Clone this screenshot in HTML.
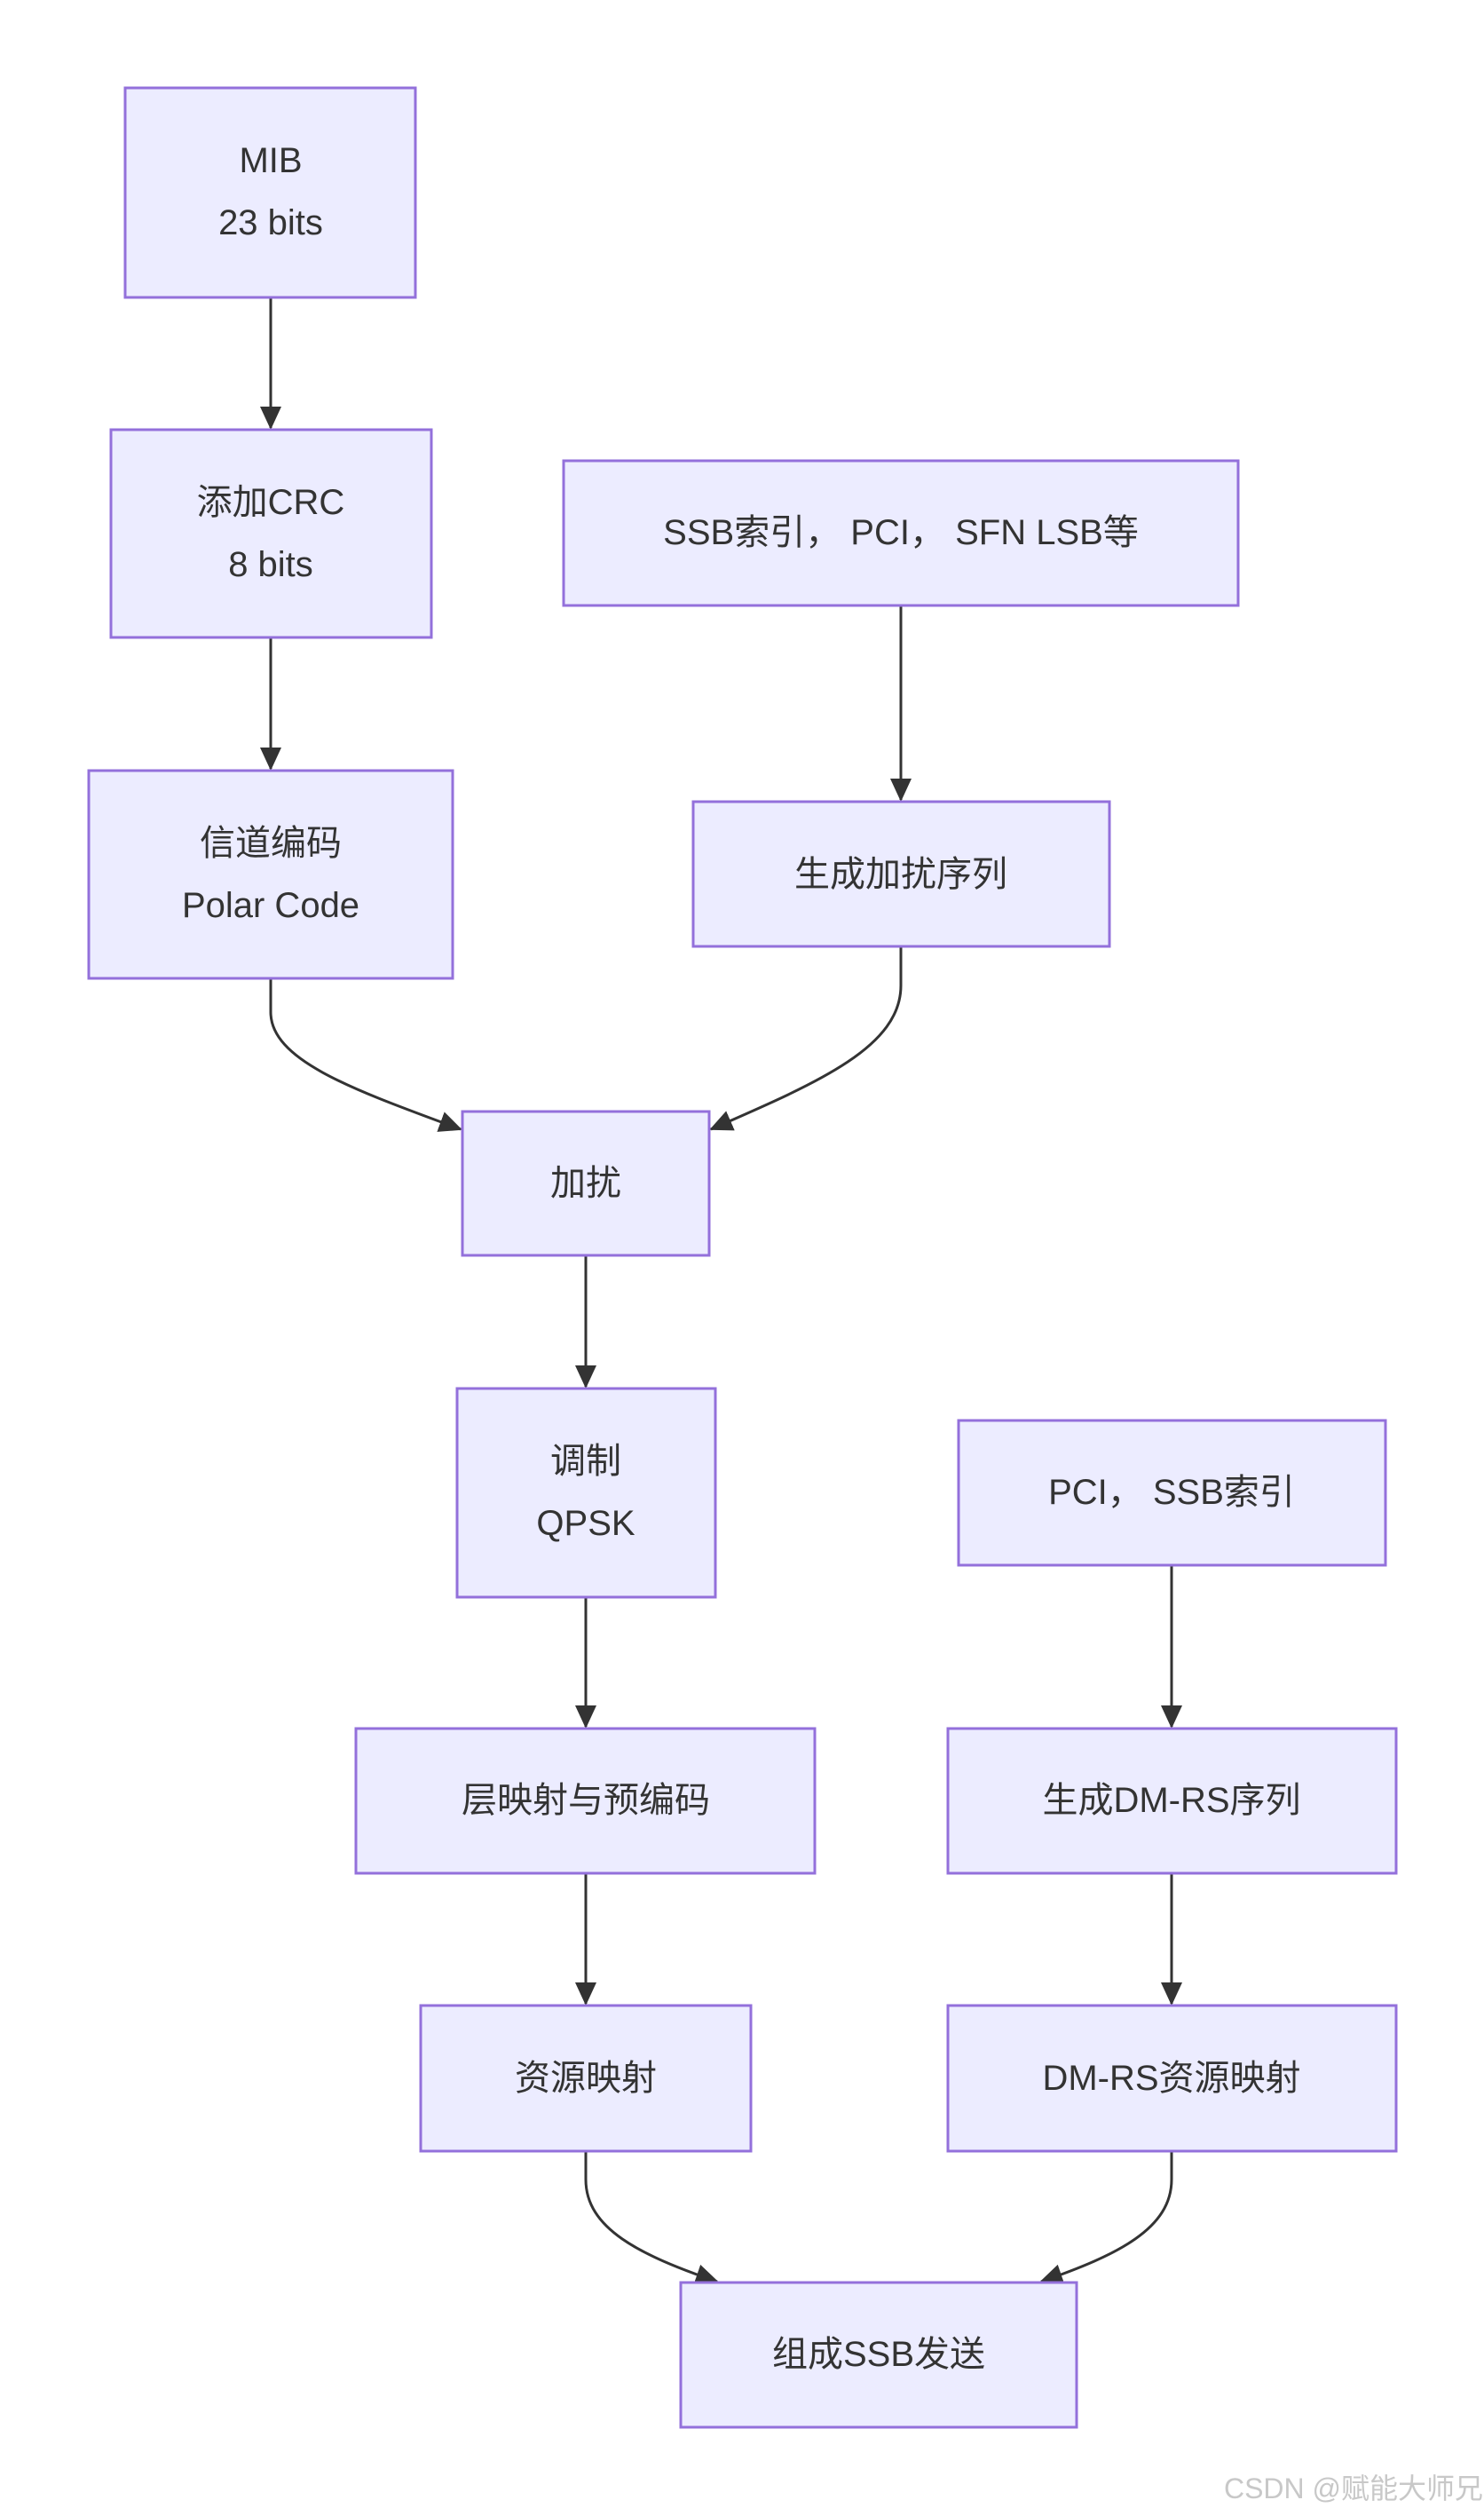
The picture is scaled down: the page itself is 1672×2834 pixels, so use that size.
<!DOCTYPE html>
<html><head><meta charset="utf-8"><style>
html,body{margin:0;padding:0;background:#fff;}
svg{display:block;}
text{font-family:"Liberation Sans","Noto Sans CJK SC",sans-serif;font-size:40px;fill:#333;text-anchor:middle;dominant-baseline:central;}
.b{fill:#ECECFF;stroke:#9370DB;stroke-width:3;}
.e{fill:none;stroke:#333;stroke-width:3;}
</style></head><body>
<svg width="1672" height="2834" viewBox="0 0 1672 2834" xmlns="http://www.w3.org/2000/svg">
<defs>
<marker id="a" markerUnits="userSpaceOnUse" markerWidth="26" markerHeight="24" refX="24" refY="12" orient="auto">
<path d="M0,0 L26,12 L0,24 z" fill="#333"/>
</marker>
</defs>
<!-- edges -->
<path class="e" d="M305,335 V482" marker-end="url(#a)"/>
<path class="e" d="M305,718 V866" marker-end="url(#a)"/>
<path class="e" d="M1015,682 V901" marker-end="url(#a)"/>
<path class="e" d="M305,1102 V1140 C305,1195 400,1228 519,1272" marker-end="url(#a)"/>
<path class="e" d="M1015,1066 V1110 C1015,1180 920,1220 801,1272" marker-end="url(#a)"/>
<path class="e" d="M660,1414 V1562" marker-end="url(#a)"/>
<path class="e" d="M660,1799 V1945" marker-end="url(#a)"/>
<path class="e" d="M1320,1763 V1945" marker-end="url(#a)"/>
<path class="e" d="M660,2110 V2257" marker-end="url(#a)"/>
<path class="e" d="M1320,2110 V2257" marker-end="url(#a)"/>
<path class="e" d="M660,2423 V2455 C660,2510 720,2540 808,2570" marker-end="url(#a)"/>
<path class="e" d="M1320,2423 V2455 C1320,2510 1260,2540 1173,2570" marker-end="url(#a)"/>
<!-- nodes -->
<rect class="b" x="141" y="99" width="327" height="236"/>
<text x="305" y="181">MIB</text><text x="305" y="251">23 bits</text>
<rect class="b" x="125" y="484" width="361" height="234"/>
<text x="305" y="566">添加CRC</text><text x="305" y="636">8 bits</text>
<rect class="b" x="100" y="868" width="410" height="234"/>
<text x="305" y="950">信道编码</text><text x="305" y="1020">Polar Code</text>
<rect class="b" x="635" y="519" width="760" height="163"/>
<text x="1015" y="600">SSB索引， PCI， SFN LSB等</text>
<rect class="b" x="781" y="903" width="469" height="163"/>
<text x="1015" y="985">生成加扰序列</text>
<rect class="b" x="521" y="1252" width="278" height="162"/>
<text x="660" y="1333">加扰</text>
<rect class="b" x="515" y="1564" width="291" height="235"/>
<text x="660" y="1646">调制</text><text x="660" y="1716">QPSK</text>
<rect class="b" x="1080" y="1600" width="481" height="163"/>
<text x="1320" y="1681">PCI， SSB索引</text>
<rect class="b" x="401" y="1947" width="517" height="163"/>
<text x="660" y="2028">层映射与预编码</text>
<rect class="b" x="1068" y="1947" width="505" height="163"/>
<text x="1320" y="2028">生成DM-RS序列</text>
<rect class="b" x="474" y="2259" width="372" height="164"/>
<text x="660" y="2341">资源映射</text>
<rect class="b" x="1068" y="2259" width="505" height="164"/>
<text x="1320" y="2341">DM-RS资源映射</text>
<rect class="b" x="767" y="2571" width="446" height="163"/>
<text x="990" y="2652">组成SSB发送</text>
<text x="1525" y="2803" style="font-size:32px;fill:#c8c8c8;">CSDN @赋能大师兄</text>
</svg>
</body></html>
